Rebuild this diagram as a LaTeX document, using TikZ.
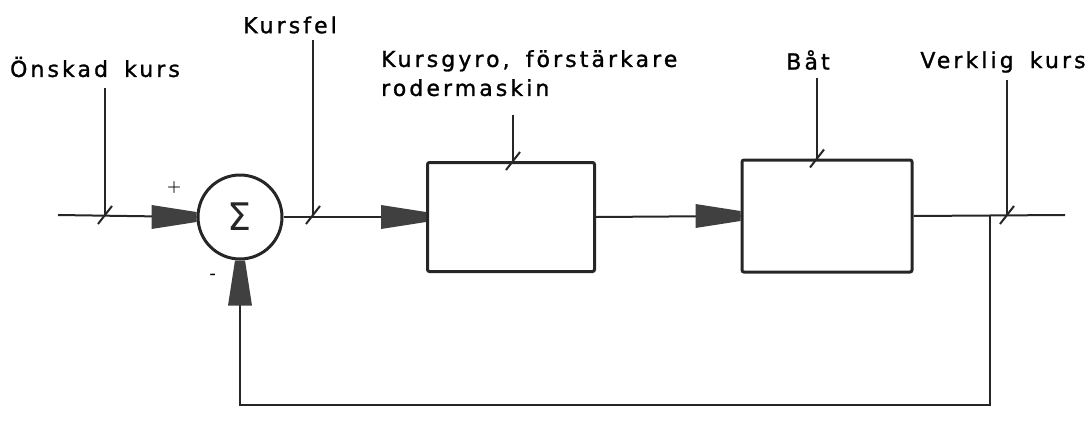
\documentclass[tikz,border=0pt]{standalone}
\usepackage{fontspec}
\usepackage{tikz}
\newfontfamily\plotfont[LetterSpace=14,WordSpace=1.6,FakeBold=1.2]{DejaVu Sans}

\tikzset{
  line/.style={line width=2pt,black!85},
  block/.style={draw,line width=3pt,black!85,rounded corners=2pt,minimum width=167pt,minimum height=109pt},
  sumnode/.style={draw,circle,line width=3pt,black!85,minimum size=84pt,inner sep=0pt,font=\fontsize{38}{40}\selectfont},
  lbl/.style={font=\plotfont\fontsize{22}{29}\selectfont,inner sep=0pt,align=left},
  pics/wedge/.style={code={\fill[black!75] (0,-5) -- (-45,-12) -- (-45,12) -- (0,5) -- cycle;}},
  pics/tick/.style={code={\draw[line width=2pt,black!85] (-7,9) -- (7,-9);}}
}

\begin{document}
\begin{tikzpicture}[x=1pt,y=-1pt]
  \useasboundingbox (0,0) rectangle (1092,434);

  % blocks of the loop
  \coordinate (in) at (58,215);
  \node[sumnode] (sum) at (240,217) {\fontspec{DejaVu Sans}Σ};
  \node[block] (gyro) at (511,217) {};
  \node[block,minimum width=170pt,minimum height=112pt] (boat) at (827,216) {};
  \coordinate (out) at (1065,215);
  \coordinate (tap) at (990,215);
  \coordinate (bottom) at (990,405);

  % forward path
  \draw[line] (in) -- (sum.west);
  \draw[line] (sum.east) -- (gyro.west);
  \draw[line] (gyro.east) -- (boat.west);
  \draw[line] (boat.east) -- (out);

  % feedback
  \draw[line] (tap) -- (bottom) -| (sum.south);

  \pic at (sum.west) {wedge};
  \pic at (gyro.west) {wedge};
  \pic at (boat.west) {wedge};
  \pic[rotate=90] at (sum.south) {wedge};

  \node (plus) at (174,188) {\fontsize{16}{16}\selectfont\bfseries +};
  \node (minus) at (213,276) {\fontsize{16}{16}\selectfont\bfseries -};

  % labels
  \node[lbl] (onskad) at (95,67) {Önskad kurs};
  \node[lbl] (kursfel) at (290,25) {Kursfel};
  \node[lbl,anchor=north west] (gyrotxt) at (381,50) {Kursgyro, förstärkare\\rodermaskin};
  \node[lbl] (battxt) at (808,60) {Båt};
  \node[lbl] (verklig) at (1003,62) {Verklig kurs};

  \coordinate (onskadtop) at (105,88);
  \coordinate (kursfeltop) at (313,40);
  \coordinate (gyrotop) at (513,115);
  \coordinate (battop) at (817,78);
  \coordinate (verkligtop) at (1007,80);

  \draw[line] (onskadtop) -- (onskadtop |- in) pic {tick};
  \draw[line] (kursfeltop) -- (kursfeltop |- in) pic {tick};
  \draw[line] (gyrotop) -- (gyrotop |- gyro.north) pic {tick};
  \draw[line] (battop) -- (battop |- boat.north) pic {tick};
  \draw[line] (verkligtop) -- (verkligtop |- out) pic {tick};
\end{tikzpicture}
\end{document}
